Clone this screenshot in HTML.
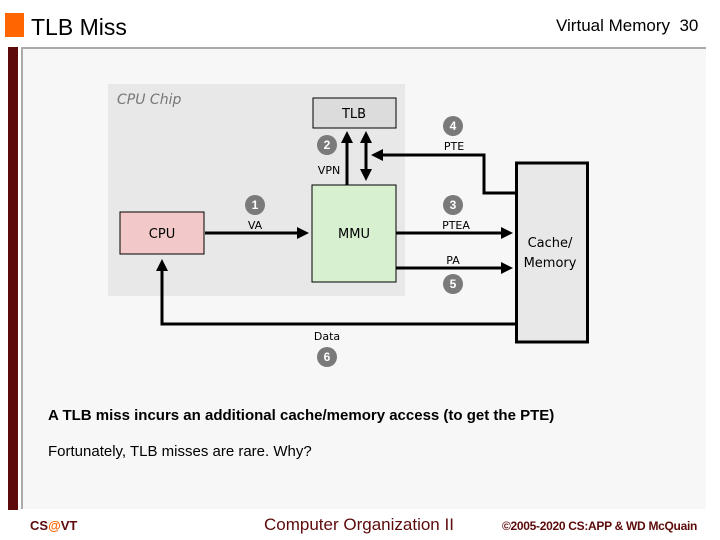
<!DOCTYPE html>
<html><head><meta charset="utf-8"><style>
body{margin:0;width:720px;height:540px;background:#fff;position:relative;overflow:hidden;font-family:"Liberation Sans",sans-serif}
.a{position:absolute}
</style></head><body>
<div class="a" style="left:5px;top:13px;width:19px;height:24px;background:#ff6600"></div>
<div class="a" style="left:31px;top:14px;font-size:23px;color:#000">TLB Miss</div>
<div class="a" style="left:556px;top:16px;font-size:17px">Virtual Memory&nbsp; 30</div>
<div class="a" style="left:8px;top:47px;width:10px;height:463px;background:#5c0a0a"></div>
<div class="a" style="left:21px;top:47px;width:685px;height:462px;background:#f7f7f7;border-top:2px solid #aaa;border-left:2px solid #aaa;box-sizing:border-box"></div>
<div class="a" style="left:108px;top:84px;width:297px;height:212px;background:#e8e8e8"></div>
<div class="a" style="left:117px;top:92px;font-size:14px;font-style:italic;color:#777;font-family:'DejaVu Sans',sans-serif">CPU Chip</div>
<svg class="a" style="left:0;top:0" width="720" height="540">
<defs><marker id="m" markerWidth="4" markerHeight="4" refX="3" refY="2" orient="auto" markerUnits="strokeWidth"><path d="M0,0L4,2L0,4z" fill="#000"/></marker></defs>
<rect x="313" y="98" width="83" height="30" fill="#dcdcdc" stroke="#000"/>
<rect x="312" y="185" width="84" height="97" fill="#d6f0d0" stroke="#000"/>
<rect x="120" y="212" width="84" height="42" fill="#f2c8c8" stroke="#000"/>
<rect x="516.5" y="163" width="71" height="179" fill="#e8e8e8" stroke="#000" stroke-width="3"/>
<g stroke="#000" stroke-width="3" fill="none">
<line x1="205" y1="233" x2="306" y2="233" marker-end="url(#m)"/>
<line x1="396" y1="233" x2="510" y2="233" marker-end="url(#m)"/>
<line x1="396" y1="268" x2="510" y2="268" marker-end="url(#m)"/>
<line x1="347" y1="185" x2="347" y2="134" marker-end="url(#m)"/>
<line x1="366" y1="140" x2="366" y2="173"/>
<line x1="366" y1="175" x2="366" y2="178" marker-end="url(#m)"/>
<line x1="366" y1="140" x2="366" y2="134" marker-end="url(#m)"/>
<polyline points="516,193 484,193 484,155 376,155"/>
<line x1="378" y1="155" x2="374" y2="155" marker-end="url(#m)"/>
<polyline points="516,324 162,324 162,266"/>
<line x1="162" y1="268" x2="162" y2="262" marker-end="url(#m)"/>
</g>
<g fill="#7a7a7a"><circle cx="255" cy="205" r="10"/><circle cx="327" cy="145" r="10"/><circle cx="453" cy="205" r="10"/><circle cx="453" cy="126" r="10"/><circle cx="453" cy="284" r="10"/><circle cx="327" cy="357" r="10"/></g>
<g fill="#fff" font-size="12" font-weight="bold" text-anchor="middle" font-family="Liberation Sans,sans-serif"><text x="255" y="209">1</text><text x="327" y="149">2</text><text x="453" y="209">3</text><text x="453" y="130">4</text><text x="453" y="288">5</text><text x="327" y="361">6</text></g>
<g font-family="DejaVu Sans,sans-serif" font-size="11" text-anchor="middle" fill="#000">
<text x="255" y="229">VA</text><text x="329" y="174">VPN</text><text x="454" y="150">PTE</text><text x="456" y="229">PTEA</text><text x="453" y="264">PA</text><text x="327" y="340">Data</text>
</g>
<g font-family="DejaVu Sans,sans-serif" font-size="13" text-anchor="middle"><text x="354" y="118">TLB</text><text x="354" y="238">MMU</text><text x="162" y="238">CPU</text><text x="550" y="247">Cache/</text><text x="550" y="267">Memory</text></g>
</svg>
<div class="a" style="left:48px;top:407px;font-size:15px;font-weight:bold;font-family:'Liberation Sans',sans-serif">A TLB miss incurs an additional cache/memory access (to get the PTE)</div>
<div class="a" style="left:48px;top:443px;font-size:15px;font-family:'Liberation Sans',sans-serif">Fortunately, TLB misses are rare. Why?</div>
<div class="a" style="left:30px;top:518px;font-size:13px;font-weight:bold;color:#5c0a0a">CS<span style="color:#ff6600">@</span>VT</div>
<div class="a" style="left:264px;top:515px;font-size:17px;color:#5c0a0a">Computer Organization II</div>
<div class="a" style="left:502px;top:519px;font-size:12px;font-weight:bold;color:#5c0a0a;letter-spacing:-0.3px">©2005-2020 CS:APP &amp; WD McQuain</div>
</body></html>
